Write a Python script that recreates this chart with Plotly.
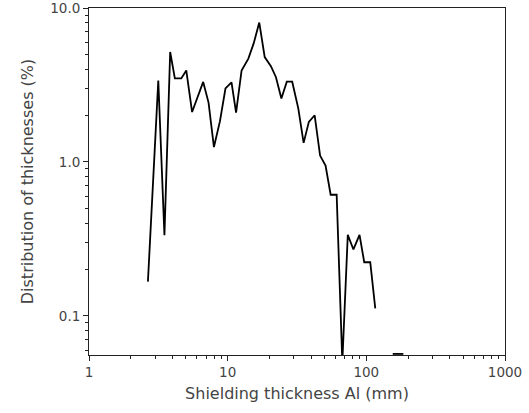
import plotly.graph_objects as go
import numpy as np

# Shielding thickness Al (mm) and distribution (%)
thickness = [2.66, 3.16, 3.50, 3.85, 4.16, 4.63, 5.03, 5.54, 6.66, 7.28, 7.96, 8.80,
             9.64, 10.66, 11.5, 12.6, 14.1, 15.4, 16.9, 18.5, 20.5, 22.3, 24.4, 26.7,
             29.2, 32.3, 35.3, 38.5, 42.4, 46.4, 50.8, 55.3, 61.1, 67.1, 73.5, 80.7,
             89.3, 96.6, 106.7, 116.0, None, 155.0, 185.0]
distribution = [0.167, 3.38, 0.334, 5.18, 3.49, 3.49, 3.93, 2.11, 3.31, 2.43, 1.25, 1.84,
                3.0, 3.29, 2.09, 3.93, 4.69, 5.89, 8.04, 4.8, 4.19, 3.55, 2.58, 3.32,
                3.32, 2.23, 1.33, 1.82, 2.01, 1.10, 0.946, 0.612, 0.612, 0.05, 0.336, 0.27,
                0.336, 0.223, 0.223, 0.112, None, 0.0566, 0.0566]

x_ticks = [1, 10, 100, 1000]
x_ticktext = ["1", "10", "100", "1000"]
y_ticks = [0.1, 1, 10]
y_ticktext = ["0.1", "1.0", "10.0"]

x_minor = [m * d for d in [1, 10, 100] for m in range(2, 10)]
y_minor = [m * d for d in [0.01, 0.1, 1] for m in range(2, 10)]

fig = go.Figure()
fig.add_trace(go.Scatter(x=thickness, y=distribution, mode="lines",
                         line=dict(color="black", width=1.8),
                         connectgaps=False, showlegend=False))

font = dict(family="DejaVu Sans", size=13.5, color="#444444")

fig.update_layout(
    width=529, height=413,
    margin=dict(l=89, r=24, t=8, b=58),
    paper_bgcolor="white", plot_bgcolor="white",
    font=font,
    xaxis=dict(type="log", range=[0, 3], showgrid=False, zeroline=False, automargin=False,
               showline=True, linecolor="#222222", linewidth=1, mirror=True,
               ticks="outside", ticklen=5, tickcolor="#222222",
               tickvals=x_ticks, ticktext=x_ticktext, ticklabeloverflow="allow",
               minor=dict(tickvals=x_minor, ticks="outside", ticklen=3, tickcolor="#222222"),
               title=dict(text="Shielding thickness Al (mm)", standoff=8)),
    yaxis=dict(type="log", range=[np.log10(0.0557), 1], showgrid=False, zeroline=False,
               automargin=False,
               showline=True, linecolor="#222222", linewidth=1, mirror=True,
               ticks="outside", ticklen=5, tickcolor="#222222",
               tickvals=y_ticks, ticktext=y_ticktext, ticklabeloverflow="allow",
               minor=dict(tickvals=y_minor, ticks="outside", ticklen=3, tickcolor="#222222"),
               title=dict(text="Distribution of thicknesses (%)", standoff=12)),
)

fig.write_html("out.html", config={"displayModeBar": False},
               post_script="document.body.style.margin='0';")
